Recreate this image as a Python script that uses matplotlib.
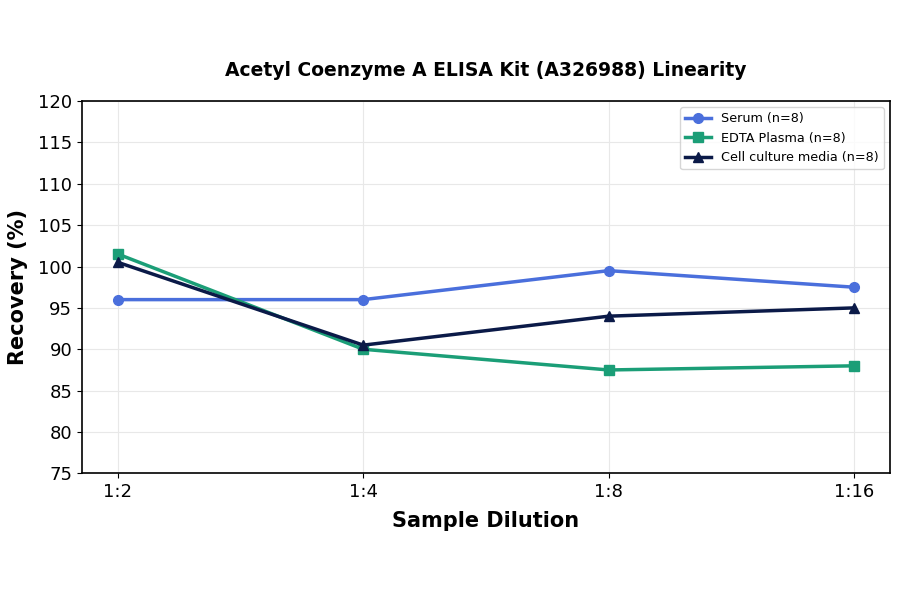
import numpy as np
import matplotlib.pyplot as plt

dilutions = ['1:2', '1:4', '1:8', '1:16']
serum = [96, 96, 99.5, 97.5]
edta = [101.5, 90, 87.5, 88]
cell = [100.5, 90.5, 94, 95]

fig, ax = plt.subplots(figsize=(9, 5.94), dpi=100)
fig.subplots_adjust(left=0.091, right=0.989, top=0.83, bottom=0.203)

x = np.arange(len(dilutions))
ax.plot(x, serum, marker='o', color='#4a6fdc', lw=2.5, ms=7, label='Serum (n=8)')
ax.plot(x, edta, marker='s', color='#1b9e77', lw=2.5, ms=7, label='EDTA Plasma (n=8)')
ax.plot(x, cell, marker='^', color='#0b1a48', lw=2.5, ms=7, label='Cell culture media (n=8)')

ax.set_xticks(x)
ax.set_xticklabels(dilutions, fontsize=13)
ax.set_xlim(-0.147, 3.147)
ax.set_ylim(75, 120)
ax.set_yticks(np.arange(75, 121, 5))
ax.tick_params(axis='y', labelsize=13)
ax.grid(True, color='#e8e8e8', lw=0.8)
ax.set_axisbelow(True)
for s in ax.spines.values():
    s.set_linewidth(1.2)

ax.set_xlabel('Sample Dilution', fontsize=15, fontweight='bold', labelpad=7)
ax.set_ylabel('Recovery (%)', fontsize=15, fontweight='bold', labelpad=7)
ax.set_title('Acetyl Coenzyme A ELISA Kit (A326988) Linearity', fontsize=13.5, fontweight='bold', pad=18)
ax.legend(loc='upper right', fontsize=9.2)

fig.savefig('out.png')
